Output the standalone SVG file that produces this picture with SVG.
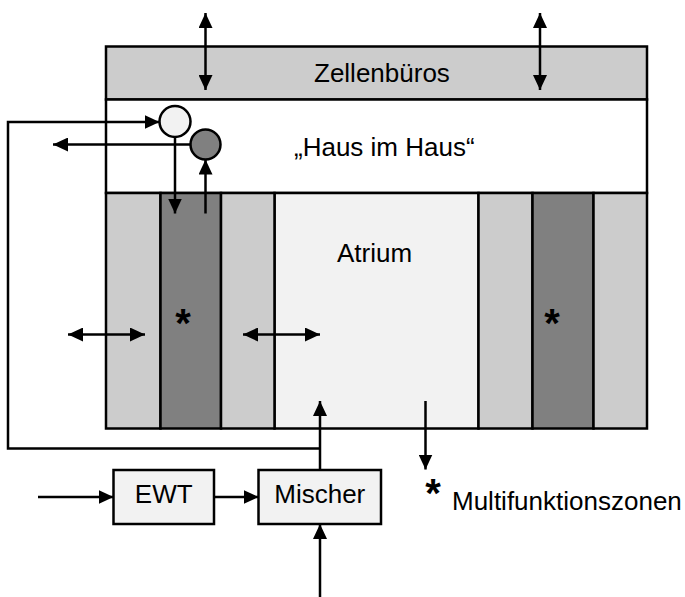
<svg xmlns="http://www.w3.org/2000/svg" width="685" height="597" viewBox="0 0 685 597">
<style>
.b{stroke:#000;stroke-width:2.5}
.t{font-family:"Liberation Sans",Arial,sans-serif;font-size:26px;fill:#000}
.s{font-family:"Liberation Sans",Arial,sans-serif;font-size:40px;font-weight:bold;fill:#000;text-anchor:middle}
.c{fill:none;stroke:#000;stroke-width:2.5}
.lg{fill:#cccccc}
.dk{fill:#808080}
.lt{fill:#f2f2f2}
</style>
<defs>
<marker id="ah" markerUnits="userSpaceOnUse" markerWidth="16" markerHeight="14" refX="15" refY="7" orient="auto-start-reverse">
<path d="M0,0 L15,7 L0,14 z" fill="#000"/>
</marker>
</defs>
<rect width="685" height="597" fill="#fff"/>
<g id="zellenbueros">
<rect class="b lg" x="106" y="46.5" width="541" height="53"/>
<text class="t" x="314" y="82">Zellenbüros</text>
</g>
<g id="haus-im-haus">
<rect class="b" fill="#fff" x="106" y="99.5" width="541" height="93.5"/>
<text class="t" x="294" y="156">„Haus im Haus“</text>
</g>
<g id="atrium">
<rect class="b lt" x="274.5" y="193" width="204" height="235.5"/>
<text class="t" x="337" y="262">Atrium</text>
</g>
<g id="zone-left">
<rect class="b lg" x="106" y="193" width="54.5" height="235.5"/>
<rect class="b dk" x="160.5" y="193" width="60.5" height="235.5"/>
<rect class="b lg" x="221" y="193" width="53.5" height="235.5"/>
<text class="s" x="183" y="337">*</text>
</g>
<g id="zone-right">
<rect class="b lg" x="478.5" y="193" width="54" height="235.5"/>
<rect class="b dk" x="532.5" y="193" width="61" height="235.5"/>
<rect class="b lg" x="593.5" y="193" width="53.5" height="235.5"/>
<text class="s" x="552" y="337">*</text>
</g>
<g id="circle-supply">
<circle class="b lt" cx="175" cy="121.5" r="15.5"/>
</g>
<g id="circle-exhaust">
<circle class="b dk" cx="205.5" cy="144.5" r="15"/>
</g>
<g id="ewt">
<rect class="b lt" x="113.5" y="470" width="100.5" height="54"/>
<text class="t" x="163.75" y="503" text-anchor="middle">EWT</text>
</g>
<g id="mischer">
<rect class="b lt" x="258.5" y="470" width="122.5" height="54"/>
<text class="t" x="319.75" y="503" text-anchor="middle">Mischer</text>
</g>
<g id="legend">
<text class="s" x="433" y="507">*</text>
<text class="t" x="452" y="510">Multifunktionszonen</text>
</g>
<g id="connectors">
<line class="c" x1="205.5" y1="13" x2="205.5" y2="90" marker-start="url(#ah)" marker-end="url(#ah)"/>
<line class="c" x1="540" y1="13" x2="540" y2="90" marker-start="url(#ah)" marker-end="url(#ah)"/>
<polyline class="c" points="320,448.5 8,448.5 8,122 159.5,122" marker-end="url(#ah)"/>
<line class="c" x1="190.5" y1="144.5" x2="53" y2="144.5" marker-end="url(#ah)"/>
<line class="c" x1="175" y1="137" x2="175" y2="213.5" marker-end="url(#ah)"/>
<line class="c" x1="205.5" y1="213.5" x2="205.5" y2="159.5" marker-end="url(#ah)"/>
<line class="c" x1="68" y1="334.5" x2="145" y2="334.5" marker-start="url(#ah)" marker-end="url(#ah)"/>
<line class="c" x1="243" y1="334.5" x2="320" y2="334.5" marker-start="url(#ah)" marker-end="url(#ah)"/>
<line class="c" x1="425.5" y1="401" x2="425.5" y2="469.5" marker-end="url(#ah)"/>
<line class="c" x1="38" y1="497" x2="113.5" y2="497" marker-end="url(#ah)"/>
<line class="c" x1="214" y1="497" x2="258.5" y2="497" marker-end="url(#ah)"/>
<line class="c" x1="320" y1="470" x2="320" y2="401" marker-end="url(#ah)"/>
<line class="c" x1="320" y1="597" x2="320" y2="524" marker-end="url(#ah)"/>
</g>
</svg>
